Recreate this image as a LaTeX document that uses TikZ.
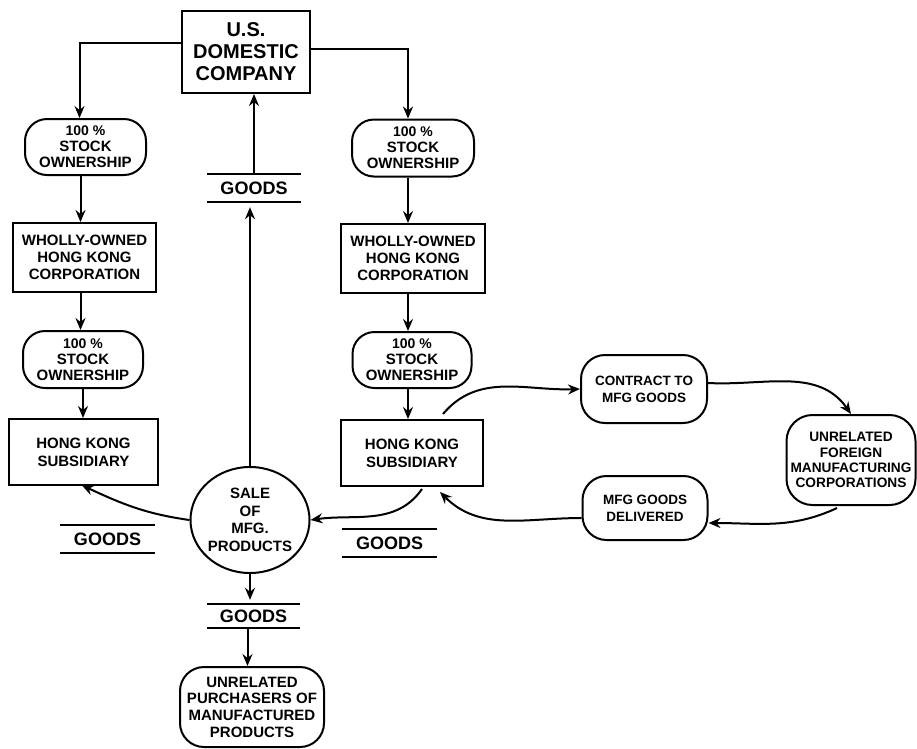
\documentclass[tikz,border=0pt]{standalone}
\usepackage{fontspec}
\setmainfont{Liberation Sans}
\usetikzlibrary{arrows.meta,calc,shapes.geometric}
\newcommand\fz[2]{\fontsize{#1}{#2}\selectfont\bfseries}
\begin{document}
\begin{tikzpicture}[x=1pt,y=-1pt,
  every node/.style={inner sep=0pt, align=center},
  box/.style={draw, line width=2pt, rectangle},
  oval/.style={box, rounded corners=22pt},
  goods/.style={minimum width=94pt, minimum height=28pt, font=\fz{18}{20}},
  arr/.style={line width=2pt, -{Stealth[length=12pt,width=10pt,inset=4pt]}},
  bar/.style={line width=2pt},
  stock/.style={oval, font=\fz{15}{16}},
  corp/.style={box, font=\fz{15}{16.7}},
]
\useasboundingbox (0,0) rectangle (917,748);

% top company
\node[box, minimum width=128pt, minimum height=82pt, font=\fz{20}{22}] (us) at (246,52) {U.S.\\DOMESTIC\\COMPANY};

% left column
\node[stock, minimum width=121pt, minimum height=56pt] (so1L) at (85.5,147) {{\fz{14}{16}100 \%}\\STOCK\\OWNERSHIP};
\node[corp, minimum width=143pt, minimum height=69pt] (wo1L) at (84.5,257.5) {WHOLLY-OWNED\\HONG KONG\\CORPORATION};
\node[stock, minimum width=120pt, minimum height=57pt] (so2L) at (83,359.5) {{\fz{14}{16}100 \%}\\STOCK\\OWNERSHIP};
\node[box, minimum width=149pt, minimum height=66pt, font=\fz{15}{18}] (hkL) at (83.5,452) {HONG KONG\\SUBSIDIARY};

% right column
\node[stock, minimum width=122pt, minimum height=57pt] (so1R) at (413,148) {{\fz{14}{16}100 \%}\\STOCK\\OWNERSHIP};
\node[corp, minimum width=144pt, minimum height=69pt] (wo1R) at (413,258.5) {WHOLLY-OWNED\\HONG KONG\\CORPORATION};
\node[stock, minimum width=119pt, minimum height=56pt] (so2R) at (412,360) {{\fz{14}{16}100 \%}\\STOCK\\OWNERSHIP};
\node[box, minimum width=142pt, minimum height=66pt, font=\fz{15}{18}] (hkR) at (412,453) {HONG KONG\\SUBSIDIARY};

% centre
\node[goods] (gT) at (254,188) {GOODS};
\node[draw, ellipse, line width=2pt, minimum width=113pt, minimum height=106pt, font=\fz{15}{17.5}] (circ) at (250,520) {SALE\\OF\\MFG.\\PRODUCTS};
\node[goods] (gL) at (107.5,539) {GOODS};
\node[goods] (gR) at (389.5,543) {GOODS};
\node[goods, minimum width=93pt, minimum height=24pt] (gB) at (253.5,616) {GOODS};
\node[box, rounded corners=24pt, minimum width=144pt, minimum height=80pt, font=\fz{15}{16.7}] (purch) at (252,707) {UNRELATED\\PURCHASERS OF\\MANUFACTURED\\PRODUCTS};

% right loop
\node[box, rounded corners=24pt, minimum width=126pt, minimum height=68pt, font=\fz{13.5}{16.7}] (contract) at (644,389) {CONTRACT TO\\MFG GOODS};
\node[box, rounded corners=26pt, minimum width=129pt, minimum height=90pt, font=\fz{13.7}{15.3}] (foreign) at (851,460) {UNRELATED\\FOREIGN\\MANUFACTURING\\CORPORATIONS};
\node[box, rounded corners=24pt, minimum width=125pt, minimum height=64pt, font=\fz{13.5}{16.7}] (deliv) at (645,508) {MFG GOODS\\DELIVERED};

% goods bars
\foreach \g in {gT,gL,gR,gB}{
  \draw[bar] (\g.north west) -- (\g.north east);
  \draw[bar] (\g.south west) -- (\g.south east);
}

% connectors
\draw[arr] ([yshift=9pt]us.west) -| ([xshift=-6pt]so1L.north);
\draw[arr] ([yshift=3pt]us.east) -| ([xshift=-5pt]so1R.north);
\draw[arr] ([xshift=-5pt]so1L.south) -- ([xshift=-5pt]so1L.south |- wo1L.north);
\draw[arr] ([xshift=-4pt]wo1L.south) -- ([xshift=-4pt]wo1L.south |- so2L.north);
\draw[arr] (so2L.south) -- (so2L.south |- hkL.north);
\draw[arr] ([xshift=-5pt]so1R.south) -- ([xshift=-5pt]so1R.south |- wo1R.north);
\draw[arr] ([xshift=-5pt]wo1R.south) -- ([xshift=-5pt]wo1R.south |- so2R.north);
\draw[arr] ([xshift=-4pt]so2R.south) -- ([xshift=-4pt]so2R.south |- hkR.north);

\draw[arr] (gT.north) -- (gT.north |- us.south);
\draw[arr, shorten >=5pt] (circ.north) -- (circ.north |- gT.south);
\draw[arr, shorten >=4pt] (circ.south) -- (circ.south |- gB.north);
\draw[arr] ([xshift=-6pt]gB.south) -- ([xshift=-6pt]gB.south |- purch.north);

\draw[arr, shorten >=-2pt] (circ.west) to[out=172, in=-25] (hkL.south);
\draw[arr] ([xshift=10pt, yshift=-2pt]hkR.south) to[out=-125, in=8] (circ.east);

\draw[arr] ([xshift=31pt, yshift=5pt]hkR.north) to[out=50, in=182] (contract.west);
\draw[arr] ([yshift=6pt]contract.east) to[out=-3, in=125] (foreign.north);
\draw[arr] ([xshift=-14pt, yshift=-2pt]foreign.south) to[out=-155, in=0] ([yshift=-15pt]deliv.east);
\draw[arr] ([yshift=-10pt]deliv.west) to[out=180, in=-45] ([xshift=28pt, yshift=-5pt]hkR.south);
\end{tikzpicture}
\end{document}
